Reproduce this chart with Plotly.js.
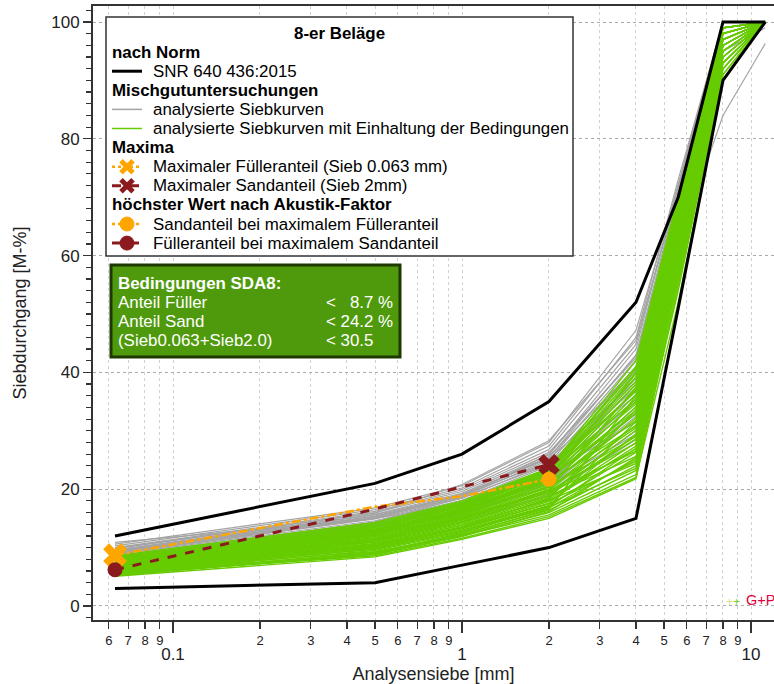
<!DOCTYPE html>
<html>
<head>
<meta charset="utf-8">
<script src="https://cdn.plot.ly/plotly-3.0.1.min.js"></script>
<style>html,body{margin:0;padding:0;background:#fff;}#chart{width:774px;height:684px;}</style>
</head>
<body>
<div id="chart"></div>
<script>
// ---------- data ----------
const sieves = [0.063, 0.5, 1, 2, 4, 5.6, 8, 11.2];
const normName = "SNR 640 436:2015";
const normUpper = [12, 21, 26, 35, 52, 70, 100, 100];
const normLower = [3, 4, 7, 10, 15, 51, 90, 100];

const grayCurves = [
  [7.2, 12.5, 15.0, 19.5, 30.0, 60, 94, 100],
  [7.5, 12.8, 15.6, 20.4, 32.5, 62, 96, 100],
  [7.8, 13.2, 16.2, 21.2, 34.0, 64, 97, 100],
  [8.0, 13.5, 16.6, 21.8, 35.5, 65, 98, 100],
  [8.2, 13.8, 17.0, 22.4, 36.8, 66, 99, 100],
  [8.4, 14.0, 17.4, 23.0, 38.0, 67, 100, 100],
  [8.6, 14.3, 17.8, 23.5, 39.2, 68, 100, 100],
  [8.8, 14.6, 18.1, 24.0, 40.3, 69, 100, 100],
  [9.0, 14.9, 18.4, 24.5, 41.0, 70, 100, 100],
  [9.2, 15.2, 18.7, 25.0, 42.1, 70, 100, 100],
  [9.4, 15.4, 19.0, 25.4, 43.0, 71, 100, 100],
  [9.6, 15.7, 19.3, 25.9, 44.0, 72, 100, 100],
  [9.8, 16.0, 19.6, 26.3, 42.5, 70, 99, 100],
  [10.0, 16.2, 19.9, 26.8, 44.8, 72, 100, 100],
  [10.3, 16.5, 20.2, 27.4, 46.0, 73, 100, 100],
  [10.6, 16.8, 20.6, 28.0, 47.2, 72, 100, 100],
  [8.1, 14.4, 18.6, 26.0, 42.8, 62, 84, 96.3],
  [8.9, 15.0, 19.2, 25.2, 38.4, 65, 95, 99],
  [9.5, 15.6, 19.0, 24.6, 36.0, 64, 96, 100],
  [7.7, 13.0, 16.4, 21.5, 33.2, 63, 97, 100],
  [8.5, 14.2, 17.6, 23.2, 35.0, 66, 98, 100],
  [9.1, 15.1, 18.6, 24.2, 37.4, 67, 99, 100],
  [10.9, 15.0, 17.5, 22.8, 39.0, 68, 100, 100],
  [7.0, 12.2, 14.8, 19.0, 28.5, 58, 93, 100],
  [9.9, 15.9, 20.8, 28.3, 45.5, 71, 100, 100],
  [8.3, 13.9, 17.2, 22.6, 31.5, 61, 95, 100],
  [9.3, 15.3, 18.9, 25.6, 40.8, 69, 99, 100],
  [7.4, 12.9, 16.0, 20.8, 29.4, 59, 94, 100]
];

const greenCurves = [
  [5.1, 8.4, 11.4, 15.0, 21.8, 55, 92, 100],
  [5.3, 8.9, 12.0, 15.6, 22.5, 57, 93, 100],
  [5.4, 9.2, 12.3, 16.4, 24.0, 58, 94, 100],
  [5.6, 9.5, 12.6, 16.8, 25.1, 59, 95, 100],
  [5.7, 9.8, 13.0, 17.2, 26.3, 60, 96, 100],
  [5.8, 10.0, 13.2, 17.5, 24.8, 58, 94, 100],
  [5.9, 10.2, 13.4, 17.9, 27.4, 61, 97, 100],
  [6.0, 10.4, 13.6, 18.2, 28.0, 62, 97, 100],
  [6.1, 10.5, 13.9, 18.6, 26.9, 60, 95, 100],
  [6.2, 10.7, 14.1, 18.9, 29.2, 63, 98, 100],
  [6.3, 10.9, 14.3, 19.2, 30.1, 64, 98, 100],
  [6.4, 11.0, 14.5, 19.5, 28.6, 62, 96, 100],
  [6.5, 11.2, 14.7, 19.8, 31.0, 64, 99, 100],
  [6.6, 11.4, 14.9, 20.0, 32.2, 65, 99, 100],
  [6.7, 11.5, 15.1, 20.3, 30.5, 63, 97, 100],
  [6.8, 11.7, 15.3, 20.6, 33.0, 66, 99, 100],
  [6.9, 11.9, 15.5, 20.9, 34.1, 66, 100, 100],
  [7.0, 12.0, 15.7, 21.1, 31.8, 64, 98, 100],
  [7.1, 12.2, 15.9, 21.4, 35.0, 67, 100, 100],
  [7.2, 12.4, 16.1, 21.7, 36.2, 67, 99, 100],
  [7.3, 12.5, 16.3, 22.0, 33.5, 65, 98, 100],
  [7.4, 12.7, 16.5, 22.2, 37.1, 68, 100, 100],
  [7.5, 12.9, 16.7, 22.5, 38.0, 68, 100, 100],
  [7.6, 13.0, 16.8, 22.7, 35.4, 66, 99, 100],
  [7.7, 13.2, 17.0, 22.9, 39.2, 69, 100, 100],
  [7.8, 13.4, 17.2, 23.1, 40.0, 69, 100, 100],
  [7.9, 13.6, 17.3, 23.3, 36.8, 67, 99, 100],
  [8.0, 13.7, 17.5, 23.5, 41.0, 70, 100, 100],
  [8.2, 13.9, 17.6, 23.0, 38.5, 68, 100, 100],
  [8.4, 14.1, 17.8, 23.4, 40.6, 69, 100, 100],
  [8.6, 14.3, 18.0, 23.6, 42.0, 70, 100, 100],
  [5.5, 8.6, 11.6, 15.3, 22.0, 52, 90, 100],
  [6.0, 9.3, 12.1, 16.0, 23.2, 54, 91, 100],
  [5.2, 9.0, 12.5, 17.0, 27.0, 56, 92, 100],
  [6.4, 10.1, 13.3, 17.6, 29.5, 61, 95, 100],
  [7.0, 11.3, 14.4, 18.8, 25.6, 57, 93, 100],
  [6.2, 10.3, 13.5, 18.4, 33.6, 65, 97, 100],
  [7.5, 12.1, 15.2, 19.7, 27.9, 60, 95, 100],
  [6.8, 11.1, 14.8, 19.9, 37.5, 68, 99, 100],
  [8.1, 13.1, 16.4, 21.3, 30.8, 62, 96, 100],
  [5.9, 9.7, 12.8, 17.1, 31.6, 63, 97, 100],
  [7.3, 12.3, 16.2, 21.8, 39.8, 69, 100, 100],
  [6.6, 10.6, 13.8, 18.1, 24.4, 56, 92, 100],
  [7.8, 12.6, 15.9, 20.4, 29.0, 61, 96, 100],
  [5.6, 9.1, 12.2, 16.6, 36.0, 66, 98, 100],
  [6.1, 9.9, 12.9, 16.9, 23.6, 55, 91, 100],
  [6.9, 11.6, 15.0, 19.4, 26.5, 59, 94, 100],
  [7.6, 12.8, 16.6, 21.9, 32.9, 65, 98, 100],
  [5.4, 8.8, 11.9, 16.2, 25.4, 58, 93, 100],
  [8.3, 13.5, 17.1, 22.4, 34.6, 66, 99, 100]
];

// maxima curves (sieves 0.063 .. 2 mm)
const maxSieves = [0.063, 0.5, 1, 2];
const maxFillerCurve = [8.7, 17.0, 18.8, 21.7];   // curve with maximum filler share
const maxSandCurve = [6.2, 16.6, 20.4, 24.2];     // curve with maximum sand share

const conditionLabels = ["Anteil Füller", "Anteil Sand", "(Sieb0.063+Sieb2.0)"];
const conditionValues = ["<\u00a0\u00a0\u00a08.7 %", "< 24.2 %", "< 30.5"];

const minorTickVals = [0.06,0.07,0.08,0.09,0.1,0.2,0.3,0.4,0.5,0.6,0.7,0.8,0.9,1,2,3,4,5,6,7,8,9,10];
const minorTickText = ["6","7","8","9","","2","3","4","5","6","7","8","9","","2","3","4","5","6","7","8","9",""];
const majorTickVals = [0.1, 1, 10];
const majorTickText = ["0.1", "1", "10"];

// ---------- colours / geometry ----------
const C_GRAY = '#a4a4a4', C_GREEN = '#66cc00', C_ORANGE = '#ffa500', C_RED = '#8b1a1f';
const FONT = 'Liberation Sans, Arial, sans-serif';
const FS = 16.9;
const W = 774, H = 684, L = 93, R = 774, T = 6, B = 620;
const px = x => (x - L) / (R - L);
const py = y => (B - y) / (B - T);

// ---------- traces ----------
const traces = [];
grayCurves.forEach(c => traces.push({type:'scatter', mode:'lines', x:sieves, y:c, xaxis:'x', yaxis:'y',
  line:{color:C_GRAY, width:1.2}, showlegend:false, hoverinfo:'skip'}));
greenCurves.forEach(c => traces.push({type:'scatter', mode:'lines', x:sieves, y:c, xaxis:'x', yaxis:'y',
  line:{color:C_GREEN, width:1.4}, showlegend:false, hoverinfo:'skip'}));
traces.push({type:'scatter', mode:'lines', x:sieves, y:normUpper, xaxis:'x2', yaxis:'y', name:normName,
  line:{color:'#000', width:3}, showlegend:false});
traces.push({type:'scatter', mode:'lines', x:sieves, y:normLower, xaxis:'x2', yaxis:'y', name:normName,
  line:{color:'#000', width:3}, showlegend:false});
traces.push({type:'scatter', mode:'lines', x:maxSieves, y:maxFillerCurve, xaxis:'x2', yaxis:'y',
  line:{color:C_ORANGE, width:2.5, dash:'dashdot'}, showlegend:false});
traces.push({type:'scatter', mode:'lines', x:maxSieves, y:maxSandCurve, xaxis:'x2', yaxis:'y',
  line:{color:C_RED, width:3, dash:'dash'}, showlegend:false});
// X markers (maxima)
traces.push({type:'scatter', mode:'markers', x:[maxSieves[0]], y:[maxFillerCurve[0]], xaxis:'x2', yaxis:'y',
  marker:{symbol:'x', size:21, color:C_ORANGE, line:{width:0}}, showlegend:false});
traces.push({type:'scatter', mode:'markers', x:[maxSieves[3]], y:[maxSandCurve[3]], xaxis:'x2', yaxis:'y',
  marker:{symbol:'x', size:19, color:C_RED, line:{width:0}}, showlegend:false});
// circle markers (value at the other sieve)
traces.push({type:'scatter', mode:'markers', x:[maxSieves[3]], y:[maxFillerCurve[3]], xaxis:'x2', yaxis:'y',
  marker:{symbol:'circle', size:15, color:C_ORANGE}, showlegend:false});
traces.push({type:'scatter', mode:'markers', x:[maxSieves[0]], y:[maxSandCurve[0]], xaxis:'x2', yaxis:'y',
  marker:{symbol:'circle', size:15, color:C_RED}, showlegend:false});

// ---------- legend (drawn manually) ----------
const shapes = [];
const annotations = [];
shapes.push({type:'rect', xref:'paper', yref:'paper', x0:px(106), x1:px(573), y0:py(17), y1:py(256),
  fillcolor:'#fff', line:{color:'#333', width:1.5}, layer:'above'});
annotations.push({xref:'paper', yref:'paper', x:px(339), y:py(33), text:'<b>8-er Beläge</b>', showarrow:false,
  xanchor:'center', yanchor:'middle', font:{family:FONT, size:FS, color:'#000'}});
const rowY = i => 33 + 19.1 * i;
const legendRows = [
  {type:'group', text:'nach Norm'},
  {type:'item', text:normName, color:'#000', width:3, dash:'solid'},
  {type:'group', text:'Mischgutuntersuchungen'},
  {type:'item', text:'analysierte Siebkurven', color:C_GRAY, width:1.5, dash:'solid'},
  {type:'item', text:'analysierte Siebkurven mit Einhaltung der Bedingungen', color:C_GREEN, width:1.5, dash:'solid'},
  {type:'group', text:'Maxima'},
  {type:'item', text:'Maximaler Fülleranteil (Sieb 0.063 mm)', color:C_ORANGE, width:2.5, dash:'dot', marker:'x'},
  {type:'item', text:'Maximaler Sandanteil (Sieb 2mm)', color:C_RED, width:3, dash:'dash', marker:'x'},
  {type:'group', text:'höchster Wert nach Akustik-Faktor'},
  {type:'item', text:'Sandanteil bei maximalem Fülleranteil', color:C_ORANGE, width:2.5, dash:'dot', marker:'o'},
  {type:'item', text:'Fülleranteil bei maximalem Sandanteil', color:C_RED, width:3, dash:'dash', marker:'o'}
];
legendRows.forEach((r, k) => {
  const y = rowY(k + 1);
  if (r.type === 'group') {
    annotations.push({xref:'paper', yref:'paper', x:px(110), y:py(y), text:'<b>' + r.text + '</b>', showarrow:false,
      xanchor:'left', yanchor:'middle', font:{family:FONT, size:FS, color:'#000'}});
  } else {
    shapes.push({type:'line', xref:'paper', yref:'paper', x0:px(112), x1:px(142), y0:py(y), y1:py(y),
      line:{color:r.color, width:r.width, dash:r.dash}, layer:'above'});
    if (r.marker === 'x') {
      const s = 6;
      shapes.push({type:'line', xref:'paper', yref:'paper', x0:px(127 - s), x1:px(127 + s), y0:py(y - s), y1:py(y + s),
        line:{color:r.color, width:5}, layer:'above'});
      shapes.push({type:'line', xref:'paper', yref:'paper', x0:px(127 - s), x1:px(127 + s), y0:py(y + s), y1:py(y - s),
        line:{color:r.color, width:5}, layer:'above'});
    } else if (r.marker === 'o') {
      const s = 7;
      shapes.push({type:'circle', xref:'paper', yref:'paper', x0:px(127 - s), x1:px(127 + s), y0:py(y + s), y1:py(y - s),
        fillcolor:r.color, line:{color:r.color, width:1}, layer:'above'});
    }
    annotations.push({xref:'paper', yref:'paper', x:px(151), y:py(y), text:r.text, showarrow:false,
      xanchor:'left', yanchor:'middle', font:{family:FONT, size:FS, color:'#000'}});
  }
});

// ---------- conditions box ----------
shapes.push({type:'rect', xref:'paper', yref:'paper', x0:px(111), x1:px(400), y0:py(265), y1:py(357),
  fillcolor:'#4e9a0c', line:{color:'#1d3800', width:3}, layer:'above'});
annotations.push({xref:'paper', yref:'paper', x:px(116), y:py(283), text:'<b>Bedingungen SDA8:</b>', showarrow:false,
  xanchor:'left', yanchor:'middle', font:{family:FONT, size:FS, color:'#fff'}});
conditionLabels.forEach((t, i) => {
  annotations.push({xref:'paper', yref:'paper', x:px(116), y:py(302 + 19.3 * i), text:t, showarrow:false,
    xanchor:'left', yanchor:'middle', font:{family:FONT, size:FS, color:'#fff'}});
  annotations.push({xref:'paper', yref:'paper', x:px(324), y:py(302 + 19.3 * i), text:conditionValues[i], showarrow:false,
    xanchor:'left', yanchor:'middle', font:{family:FONT, size:FS, color:'#fff'}});
});

// ---------- logo ----------
annotations.push({xref:'paper', yref:'paper', x:px(742), y:py(602), showarrow:false, xanchor:'right', yanchor:'middle',
  text:'<span style="color:#d9e08c">+</span><span style="color:#7ed321">+</span>', font:{family:FONT, size:12}});
annotations.push({xref:'paper', yref:'paper', x:px(744), y:py(600), showarrow:false, xanchor:'left', yanchor:'middle',
  text:'G+P', font:{family:FONT, size:14.5, color:'#e4003b'}});

// ---------- layout ----------
const xRange = [-1.2768, 1.0796];
const layout = {
  width: W, height: H,
  margin: {l: L, r: W - R, t: T, b: H - B, pad: 0},
  paper_bgcolor: '#fff', plot_bgcolor: '#fff',
  font: {family: FONT, color: '#222'},
  showlegend: false,
  xaxis: {
    type: 'log', range: xRange, tickmode: 'array', tickvals: minorTickVals, ticktext: minorTickText,
    ticks: 'outside', ticklen: 7, tickwidth: 1.2, tickcolor: '#333', tickfont: {size: 13, color: '#222'},
    showgrid: true, gridcolor: '#d2d2d2', griddash: 'dot', gridwidth: 1,
    showline: true, linecolor: '#333', linewidth: 2, mirror: true, zeroline: false,
    title: {text: 'Analysensiebe [mm]', font: {size: 18, color: '#222'}, standoff: 30}
  },
  xaxis2: {
    type: 'log', range: xRange, overlaying: 'x', anchor: 'y', side: 'bottom',
    tickmode: 'array', tickvals: majorTickVals, ticktext: majorTickText,
    ticks: 'outside', ticklen: 12, tickwidth: 1.5, tickcolor: '#333', tickfont: {size: 17, color: '#222'},
    ticklabelstandoff: 7,
    showgrid: false, showline: false, zeroline: false
  },
  yaxis: {
    range: [-2.4, 102.74], tickmode: 'linear', tick0: 0, dtick: 20,
    ticks: 'outside', ticklen: 8, tickwidth: 1.2, tickcolor: '#333', tickfont: {size: 17, color: '#222'},
    minor: {dtick: 2, ticks: 'outside', ticklen: 5, tickcolor: '#333', showgrid: false},
    showgrid: true, gridcolor: '#aaaaaa', griddash: 'dot', gridwidth: 1,
    showline: true, linecolor: '#333', linewidth: 2, mirror: false, zeroline: false,
    title: {text: 'Siebdurchgang [M-%]', font: {size: 18, color: '#222'}, standoff: 20}
  },
  shapes: shapes,
  annotations: annotations
};

Plotly.newPlot('chart', traces, layout, {displayModeBar: false, staticPlot: true});
</script>
</body>
</html>
